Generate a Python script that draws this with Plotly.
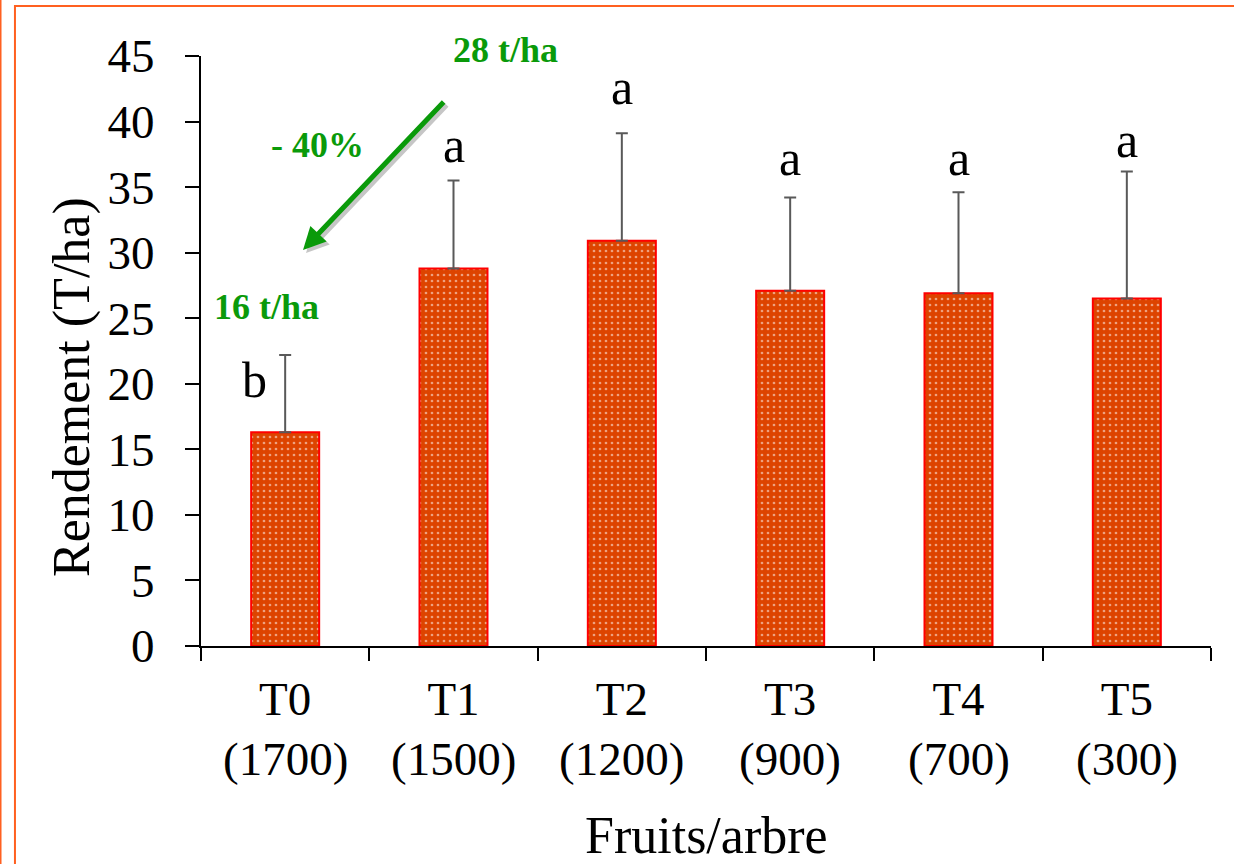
import plotly.graph_objects as go

categories = ["T0", "T1", "T2", "T3", "T4", "T5"]
fruits = ["(1700)", "(1500)", "(1200)", "(900)", "(700)", "(300)"]
rendement = [16.3, 28.8, 30.9, 27.1, 26.9, 26.5]
erreur = [5.9, 6.7, 8.2, 7.1, 7.7, 9.7]
lettres = ["b", "a", "a", "a", "a", "a"]
lettre_y = [20.3, 38.2, 42.6, 37.2, 37.2, 38.6]
lettre_dx = [-0.18, 0, 0, 0, 0, 0]

green_texts = ["28 t/ha", "- 40%", "16 t/ha"]
green_x = [1.306, 0.195, -0.108]
green_y = [45.46, 38.2, 25.86]
arrow_head = (0.106, 30.2)
arrow_tail = (0.95, 41.6)

YMAX = 45
GREEN = "#0A9A0A"
ORANGE = "#FF6020"
FONT = "Liberation Serif, Times New Roman, serif"

fig = go.Figure()
fig.add_trace(go.Bar(
    x=categories, y=rendement,
    width=0.404,
    marker=dict(
        color="#DD4400",
        line=dict(color="#FF0000", width=2),
        pattern=dict(shape=".", fgcolor="white", bgcolor="#DD4400", size=6, solidity=0.16, fillmode="overlay"),
    ),
    error_y=dict(type="data", symmetric=False, array=erreur, arrayminus=[0] * len(erreur),
                 color="#595959", thickness=2, width=6),
))

ann = []
for i, (t, yv, dx) in enumerate(zip(lettres, lettre_y, lettre_dx)):
    ann.append(dict(x=i + dx, y=yv, xref="x", yref="y", text=t, showarrow=False,
                    xanchor="center", yanchor="middle",
                    font=dict(family=FONT, size=50, color="black")))
for t, xv, yv in zip(green_texts, green_x, green_y):
    ann.append(dict(x=xv, y=yv / YMAX, xref="x", yref="paper", text="<b>%s</b>" % t, showarrow=False,
                    xanchor="center", yanchor="middle",
                    font=dict(family=FONT, size=36, color=GREEN)))
# second line of the category labels
for i, f in enumerate(fruits):
    ann.append(dict(x=i, y=-0.192, xref="x", yref="paper", text=f, showarrow=False,
                    xanchor="center", yanchor="middle",
                    font=dict(family=FONT, size=47, color="black")))
# arrow shadow then arrow
for col, sx, sy in [("rgba(0,0,0,0.22)", 3, -3), (GREEN, 0, 0)]:
    ann.append(dict(x=arrow_head[0], y=arrow_head[1], ax=arrow_tail[0], ay=arrow_tail[1],
                    xref="x", yref="y", axref="x", ayref="y", text="", showarrow=True,
                    arrowhead=2, arrowsize=0.9, arrowwidth=5, arrowcolor=col,
                    xshift=sx, yshift=sy, standoff=0))
# axis titles
ann.append(dict(x=-0.1277, y=0.439, xref="paper", yref="paper", text="Rendement (T/ha)",
                xanchor="center", yanchor="middle",
                textangle=-90, showarrow=False, font=dict(family=FONT, size=52, color="black")))
ann.append(dict(x=0.5, y=-0.322, xref="paper", yref="paper", text="Fruits/arbre",
                xanchor="center", yanchor="middle",
                showarrow=False, font=dict(family=FONT, size=52, color="black")))

shapes = [
    dict(type="line", xref="paper", yref="paper", x0=-0.1985, x1=-0.1985, y0=-0.5, y1=1.2,
         line=dict(color=ORANGE, width=2)),
    dict(type="rect", xref="paper", yref="paper", x0=-0.1842, x1=1.2, y0=-0.5, y1=1.0847,
         line=dict(color=ORANGE, width=2)),
]

fig.update_layout(
    width=1234, height=864,
    margin=dict(l=201, r=23, t=56, b=218),
    paper_bgcolor="white", plot_bgcolor="white",
    showlegend=False,
    bargap=0.596,
    annotations=ann,
    shapes=shapes,
    font=dict(family=FONT, color="black"),
)
fig.update_xaxes(
    type="category", categoryorder="array", categoryarray=categories,
    range=[-0.5, 5.5], tickson="boundaries",
    ticks="outside", ticklen=13, tickwidth=2, tickcolor="black",
    showline=True, linecolor="black", linewidth=2,
    showgrid=False, zeroline=False,
    tickfont=dict(family=FONT, size=47, color="black"),
    ticklabelstandoff=11,
)
fig.update_yaxes(
    range=[0, YMAX], dtick=5, tick0=0,
    ticks="outside", ticklen=14, tickwidth=2, tickcolor="black",
    showline=True, linecolor="black", linewidth=2,
    showgrid=False, zeroline=False,
    tickfont=dict(family=FONT, size=47, color="black"),
    ticklabelstandoff=21,
)
fig.write_html("out.html", config={"displayModeBar": False},
               post_script="document.body.style.margin='0';")
